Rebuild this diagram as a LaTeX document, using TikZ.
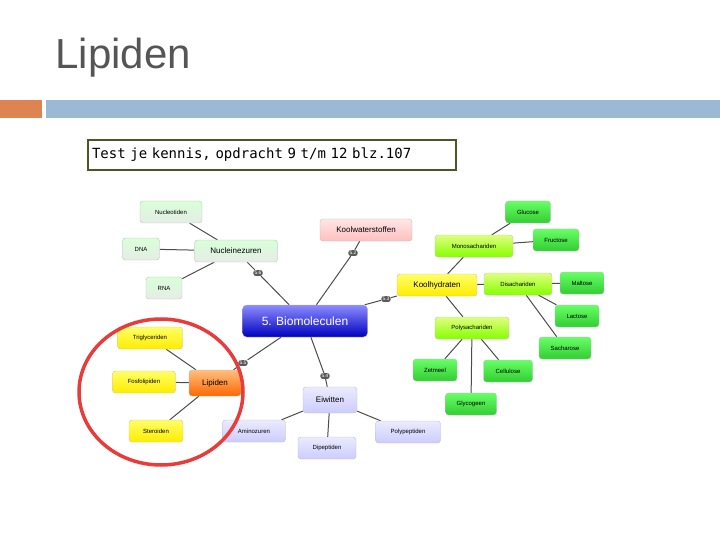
\documentclass[tikz,border=0pt]{standalone}
\usepackage{fontspec}
\setmainfont{Liberation Sans}
\setmonofont{DejaVu Sans Mono}
\usetikzlibrary{positioning, backgrounds}
\definecolor{Titel}{RGB}{85,85,85}
\definecolor{Oranje}{RGB}{221,132,82}
\definecolor{Balk}{RGB}{155,184,212}
\definecolor{Olijf}{RGB}{74,86,40}
\definecolor{Rood}{RGB}{232,60,60}
\tikzset{
    kaart/.style={rounded corners=3pt, draw=black!25, inner sep=0pt, minimum height=22pt, font=\fontsize{6}{7}\selectfont},
    groen/.style={kaart, top color=green!15, bottom color=green!30!black!10!white},
    fel/.style={kaart, top color=green!60, bottom color=green!75!black!80},
    lime/.style={kaart, top color=lime!50, bottom color=lime!70!green},
    geel/.style={kaart, top color=yellow!60, bottom color=yellow!85!orange},
    paars/.style={kaart, top color=blue!8, bottom color=blue!20},
    roze/.style={kaart, top color=red!10, bottom color=red!25},
    badge/.style={rounded corners=2.5pt, fill=black!65, text=white, inner sep=1.2pt, font=\fontsize{5}{5}\selectfont},
    tak/.style={draw=black!70, line width=1pt}
}
\begin{document}
\begin{tikzpicture}[x=1pt, y=-1pt]
    \useasboundingbox (0,0) rectangle (720,540);

    %%% header
    \node[anchor=west, text=Titel, font=\fontsize{42}{44}\selectfont] (titel) at (52,58) {Lipiden};
    \fill[Oranje] (0,100) rectangle (42,118);
    \fill[Balk] (46,100) rectangle (720,118);
    \node[draw=Olijf, line width=1.5pt, minimum width=368pt, minimum height=30pt, text width=360pt,
          font=\ttfamily\fontsize{14}{15}\selectfont] (opdracht) at (272,155) {Test je kennis, opdracht 9 t/m 12 blz.107};

    %%% hub
    \node[kaart, rounded corners=4pt, top color=blue!45, bottom color=blue!75!black, text=white,
          minimum width=125pt, minimum height=32pt, font=\fontsize{12}{14}\selectfont] (bio) at (305,321) {5. Biomoleculen};

    % nucleinezuren
    \node[groen, minimum width=83pt, font=\fontsize{8}{9}\selectfont] (nuclein) at (236,251) {Nucleinezuren};
    \node[groen, minimum width=62pt] (nucleo) at (171,212) {Nucleotiden};
    \node[groen, minimum width=37pt] (dna) at (141,249) {DNA};
    \node[groen, minimum width=36pt] (rna) at (164,288) {RNA};

    % koolwaterstoffen
    \node[roze, minimum width=92pt, font=\fontsize{8}{9}\selectfont] (koolw) at (366,230) {Koolwaterstoffen};

    % koolhydraten
    \node[geel, minimum width=80pt, font=\fontsize{8}{9}\selectfont] (koolh) at (437,285) {Koolhydraten};
    \node[lime, minimum width=78pt] (mono) at (474,246) {Monosachariden};
    \node[lime, minimum width=68pt] (di) at (518,284) {Disachariden};
    \node[lime, minimum width=74pt] (poly) at (472,328) {Polysachariden};
    \node[fel, minimum width=45pt] (glucose) at (528,212) {Glucose};
    \node[fel, minimum width=46pt] (fructose) at (556,240) {Fructose};
    \node[fel, minimum width=44pt] (maltose) at (582,283) {Maltose};
    \node[fel, minimum width=44pt] (lactose) at (577,316) {Lactose};
    \node[fel, minimum width=52pt] (sacharose) at (565,348) {Sacharose};
    \node[fel, minimum width=44pt] (zetmeel) at (435,370) {Zetmeel};
    \node[fel, minimum width=49pt] (cellulose) at (508,371) {Cellulose};
    \node[fel, minimum width=51pt] (glycogeen) at (471,404) {Glycogeen};

    % lipiden
    \node[kaart, top color=orange!50, bottom color=orange!80!red, minimum width=52pt, minimum height=26pt,
          font=\fontsize{8}{9}\selectfont] (lipiden) at (215,383) {Lipiden};
    \node[geel, minimum width=65pt] (trigly) at (150,338) {Triglyceriden};
    \node[geel, minimum width=63pt] (fosfo) at (144,382) {Fosfolipiden};
    \node[geel, minimum width=54pt] (stero) at (156,431) {Steroiden};

    % eiwitten
    \node[paars, minimum width=54pt, minimum height=26pt, font=\fontsize{8}{9}\selectfont] (eiwit) at (330,400) {Eiwitten};
    \node[paars, minimum width=63pt] (amino) at (254,431) {Aminozuren};
    \node[paars, minimum width=58pt] (dipep) at (327,448) {Dipeptiden};
    \node[paars, minimum width=65pt] (polypep) at (408,432) {Polypeptiden};

    %%% badges
    \node[badge] (b56) at (258,273) {5.6};
    \node[badge] (b52) at (353,253) {5.2};
    \node[badge] (b53) at (386,299) {5.3};
    \node[badge] (b55) at (243,363) {5.5};
    \node[badge] (b54) at (325,376) {5.4};

    %%% branches
    \begin{pgfonlayer}{background}
    \draw[tak] (bio) -- (b56) -- (nuclein);
    \draw[tak] (bio) -- (b52) -- (koolw);
    \draw[tak] (bio) -- (b53) -- (koolh);
    \draw[tak] (bio) -- (b55) -- (lipiden);
    \draw[tak] (bio) -- (b54) -- (eiwit);
    \foreach \a/\b in {nuclein/nucleo, nuclein/dna, nuclein/rna,
                       koolh/mono, koolh/di, koolh/poly,
                       mono/glucose, mono/fructose, di/maltose, di/lactose, di/sacharose,
                       poly/zetmeel, poly/cellulose, poly/glycogeen,
                       lipiden/trigly, lipiden/fosfo, lipiden/stero,
                       eiwit/amino, eiwit/dipep, eiwit/polypep}
        \draw[tak] (\a) -- (\b);
    \end{pgfonlayer}

    %%% markering
    \draw[Rood, line width=3.5pt] (161,392) ellipse [x radius=82, y radius=73];
\end{tikzpicture}
\end{document}
